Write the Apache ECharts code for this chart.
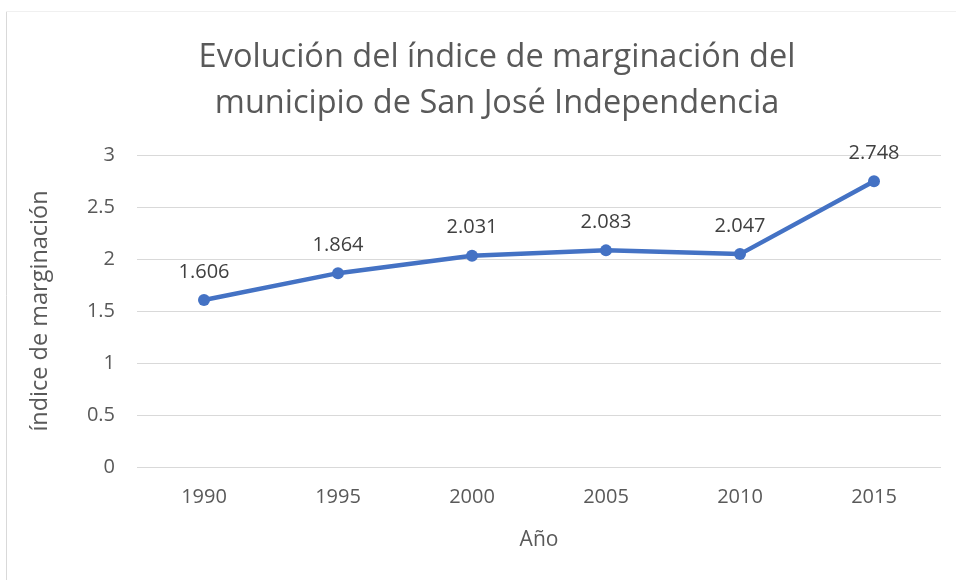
<!DOCTYPE html>
<html><head><meta charset="utf-8">
<script src="https://cdn.jsdelivr.net/npm/echarts@6/dist/echarts.min.js"></script>
<style>html,body{margin:0;padding:0;background:#fff}#c{width:956px;height:580px}</style>
</head><body><div id="c"></div>
<script>
const categories = ['1990','1995','2000','2005','2010','2015'];
const values = [1.606, 1.864, 2.031, 2.083, 2.047, 2.748];
const titleLines = ['Evolución del índice de marginación del', 'municipio de San José Independencia'];
const FONT = 'Open Sans';
const chart = echarts.init(document.getElementById('c'));
chart.setOption({
  animation: false,
  backgroundColor: '#fff',
  title: {
    text: titleLines.join('\n'),
    left: 492, top: 30, textAlign: 'center',
    textStyle: {fontFamily: FONT, fontSize: 32.5, fontWeight: 'normal', color: '#595959', lineHeight: 46}
  },
  graphic: [
    {type: 'line', shape: {x1: 6.5, y1: 11, x2: 6.5, y2: 580}, style: {stroke: '#d9d9d9', lineWidth: 1}},
    {type: 'line', shape: {x1: 6, y1: 11.5, x2: 956, y2: 11.5}, style: {stroke: '#f0f0f0', lineWidth: 1}}
  ],
  grid: {left: 137, right: 15, top: 155, bottom: 113},
  xAxis: {
    type: 'category', data: categories, boundaryGap: true,
    axisLine: {show: false}, axisTick: {show: false},
    axisLabel: {fontFamily: FONT, fontSize: 20, color: '#595959', margin: 20},
    name: 'Año', nameLocation: 'middle', nameGap: 63,
    nameTextStyle: {fontFamily: FONT, fontSize: 21, color: '#595959'}
  },
  yAxis: {
    type: 'value', min: 0, max: 3, interval: 0.5,
    axisLine: {show: false}, axisTick: {show: false},
    splitLine: {lineStyle: {color: '#d9d9d9', width: 1}},
    axisLabel: {fontFamily: FONT, fontSize: 20, color: '#595959', margin: 22},
    name: 'índice de marginación', nameLocation: 'middle', nameGap: 85,
    nameTextStyle: {fontFamily: FONT, fontSize: 23.5, color: '#595959'}
  },
  series: [{
    type: 'line', data: values,
    lineStyle: {color: '#4472C4', width: 4.5},
    itemStyle: {color: '#4472C4'},
    symbol: 'circle', symbolSize: 12,
    label: {show: true, position: 'top', distance: 12, fontFamily: FONT, fontSize: 20, color: '#404040',
      formatter: p => p.value.toFixed(3)}
  }]
});
</script></body></html>
